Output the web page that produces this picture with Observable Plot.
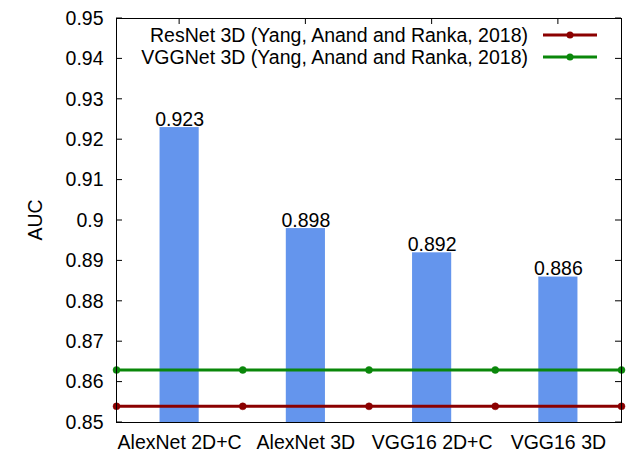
<!DOCTYPE html>
<html>
<head>
<meta charset="utf-8">
<script src="https://cdn.jsdelivr.net/npm/d3@7"></script>
<script src="https://cdn.jsdelivr.net/npm/@observablehq/plot@0.6"></script>
<style>
  body { margin: 0; background: #fff; }
  #chart { width: 639px; height: 454px; }
</style>
</head>
<body>
<div id="chart"></div>
<script>
const categories = ["AlexNet 2D+C", "AlexNet 3D", "VGG16 2D+C", "VGG16 3D"];
const aucValues = [0.923, 0.898, 0.892, 0.886];
const refNames = ["ResNet 3D (Yang, Anand and Ranka, 2018)", "VGGNet 3D (Yang, Anand and Ranka, 2018)"];
const refValues = [0.854, 0.863];
const refColors = ["#8b0000", "#0a870a"];
const lineX = [-0.5, 0.5, 1.5, 2.5, 3.5];
const yTicks = [0.85, 0.86, 0.87, 0.88, 0.89, 0.90, 0.91, 0.92, 0.93, 0.94, 0.95];

(function () {
const bars = categories.map((c, i) => ({ i, cat: c, v: aucValues[i] }));
const refPts = refNames.flatMap((n, k) => lineX.map(x => ({ name: n, x, v: refValues[k], color: refColors[k] })));
const halfW = 0.155;
const font = "Liberation Sans, Arial, Helvetica, sans-serif";
const fs = 19.5;

const chart = Plot.plot({
  width: 639,
  height: 454,
  marginLeft: 116,
  marginRight: 18,
  marginTop: 18,
  marginBottom: 32,
  style: { fontFamily: font, fontSize: fs + "px", color: "#000", background: "#fff", overflow: "visible" },
  x: { type: "linear", domain: [-0.5, 3.5] },
  y: { domain: [0.85, 0.95] },
  marks: [
    Plot.rectY(bars, { x1: d => d.i - halfW, x2: d => d.i + halfW, y1: 0.85, y2: "v", fill: "#6495ed" }),
    Plot.text(bars, { x: "i", y: "v", text: d => String(d.v), lineAnchor: "bottom", dy: -2, fontSize: fs, fill: "#000" }),
    Plot.line(refPts, { x: "x", y: "v", z: "name", stroke: "color", strokeWidth: 3 }),
    Plot.dot(refPts, { x: "x", y: "v", fill: "color", r: 3.5, stroke: "color", strokeWidth: 0.5 }),
    Plot.axisY({ ticks: yTicks, tickSize: 0, tickPadding: 13, tickFormat: d => String(+d.toFixed(2)), label: null, fontSize: fs }),
    Plot.axisX({ ticks: [0, 1, 2, 3], tickSize: 0, tickPadding: 13, tickFormat: i => categories[i], label: null, fontSize: fs }),
    Plot.frame({ stroke: "#000", strokeWidth: 1 })
  ]
});

const xs = chart.scale("x"), ys = chart.scale("y");
const svg = d3.select(chart);
const L = 116, R = 621, T = 18, B = 422;
const g = svg.append("g").attr("stroke", "#000").attr("stroke-width", 1);
for (const t of yTicks) {
  const y = ys.apply(t);
  g.append("line").attr("x1", L).attr("x2", L + 6).attr("y1", y).attr("y2", y);
  g.append("line").attr("x1", R - 6).attr("x2", R).attr("y1", y).attr("y2", y);
}
for (let i = 0; i < categories.length; i++) {
  const x = xs.apply(i);
  g.append("line").attr("x1", x).attr("x2", x).attr("y1", T).attr("y2", T + 6);
}
svg.append("text").attr("transform", "translate(42,220) rotate(-90)")
  .attr("text-anchor", "middle").attr("font-family", font).attr("font-size", fs).attr("fill", "#000").text("AUC");
const lg = svg.append("g").attr("font-family", font).attr("font-size", fs);
refNames.forEach((n, k) => {
  const y = 35 + k * 22;
  lg.append("text").attr("x", 528).attr("y", y).attr("dy", "0.35em").attr("text-anchor", "end").attr("fill", "#000").text(n);
  lg.append("line").attr("x1", 543).attr("x2", 597).attr("y1", y).attr("y2", y).attr("stroke", refColors[k]).attr("stroke-width", 3);
  lg.append("circle").attr("cx", 570).attr("cy", y).attr("r", 3.5).attr("fill", refColors[k]);
});

document.getElementById("chart").appendChild(chart);
})();
</script>
</body>
</html>
